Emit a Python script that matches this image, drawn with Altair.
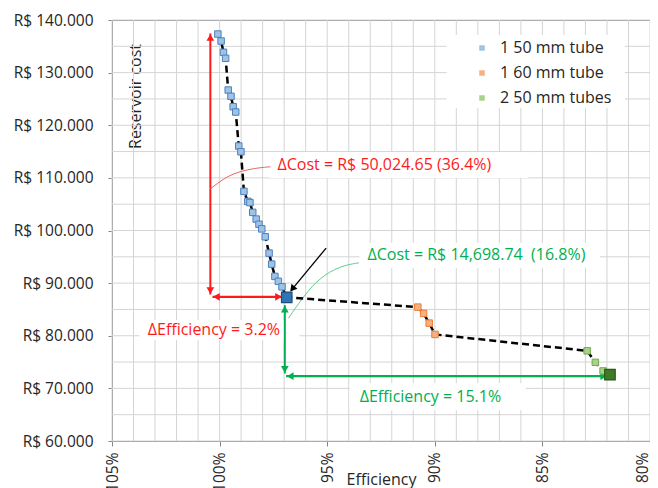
import altair as alt
import pandas as pd

# ---------------- data ----------------
series_names = ["1 50 mm tube", "1 60 mm tube", "2 50 mm tubes"]

blue_eff = [100.08, 99.93, 99.82, 99.72, 99.60, 99.47, 99.37, 99.25, 99.11, 99.01,
            98.87, 98.69, 98.59, 98.46, 98.30, 98.17, 98.04, 97.88, 97.70, 97.58,
            97.43, 97.27, 97.10, 96.88]
blue_cost = [137330, 136008, 133866, 132719, 126693, 125495, 123518, 122511, 116047, 114964,
             107436, 105535, 105307, 103444, 102170, 101182, 100307, 98805, 95706, 93615,
             91277, 90345, 89300, 87305]
orange_eff = [90.79, 90.52, 90.26, 89.99]
orange_cost = [85441, 84243, 82399, 80251]
green_eff = [82.92, 82.54, 82.18, 81.86]
green_cost = [77134, 74948, 73312, 72606]

fill_colors = ["#9DC3E6", "#F4B183", "#A9D18E"]
stroke_colors = ["#4F81BD", "#ED7D31", "#70AD47"]

highlight_eff = [96.88, 81.86]
highlight_cost = [87305, 72606]
highlight_fill = ["#2E75B6", "#3E7B27"]
highlight_stroke = ["#1F4E79", "#2A561A"]

x_ticks = [80, 85, 90, 95, 100, 105]
y_ticks = [60000, 70000, 80000, 90000, 100000, 110000, 120000, 130000, 140000]
x_grid = list(range(80, 106))
y_grid = list(range(60000, 140001, 5000))

RED = "#FF1A1A"
GREEN = "#00B050"

# annotation texts
ann_text = ["\u0394Cost = R$ 50,024.65 (36.4%)", "\u0394Efficiency = 3.2%",
            "\u0394Cost = R$ 14,698.74 \u00a0(16.8%)", "\u0394Efficiency = 15.1%"]
ann_eff = [97.31, 103.34, 93.13, 93.49]
ann_cost = [112435, 81069, 95326, 68388]
ann_color = [RED, RED, GREEN, GREEN]

# white label boxes (legend + annotations)
box_eff1 = [89.45, 97.68, 103.73, 93.50, 93.96]
box_eff2 = [81.17, 85.68, 96.29, 82.33, 85.77]
box_cost1 = [137148, 114906, 82970, 97607, 70994]
box_cost2 = [123271, 109964, 79168, 92855, 65861]

# arrow shafts
arrow_eff1 = [100.43, 100.33, 96.97, 96.91, 95.05]
arrow_eff2 = [100.43, 97.08, 96.97, 81.96, 96.55]
arrow_cost1 = [137434, 87400, 85820, 72324, 96657]
arrow_cost2 = [87818, 87400, 72836, 72324, 89250]
arrow_color = [RED, RED, GREEN, GREEN, "#000000"]
arrow_width = [2, 2.2, 2, 2.2, 1.3]

# arrow heads
head_eff = [100.43, 100.43, 100.15, 97.26, 96.97, 96.97, 96.72, 82.15, 96.62]
head_cost = [136673, 88577, 87400, 87400, 85060, 73596, 72324, 72324, 88900]
head_angle = [0, 180, 270, 90, 0, 180, 270, 90, 219]
head_color = [RED, RED, RED, RED, GREEN, GREEN, GREEN, GREEN, "#000000"]

# leader curves
lead_name = ["r"] * 5 + ["g"] * 5
lead_eff = [97.65, 98.46, 99.39, 100.01, 100.44, 93.53, 94.43, 95.36, 96.06, 96.80]
lead_cost = [112112, 111808, 110858, 109261, 107873, 93862, 93235, 90954, 87722, 83350]
lead_color = ["#F06060"] * 5 + ["#5CCB8A"] * 5

# ---------------- tables ----------------
pts = pd.DataFrame({
    "series": [series_names[0]] * len(blue_eff) + [series_names[1]] * len(orange_eff)
    + [series_names[2]] * len(green_eff),
    "eff": blue_eff + orange_eff + green_eff,
    "cost": blue_cost + orange_cost + green_cost,
})
pts["idx"] = range(len(pts))

hl = pd.DataFrame({"eff": highlight_eff, "cost": highlight_cost,
                   "fill": highlight_fill, "stroke": highlight_stroke})
vg = pd.DataFrame({"eff": x_grid})
hg = pd.DataFrame({"cost": y_grid})
ann = pd.DataFrame({"eff": ann_eff, "cost": ann_cost, "text": ann_text, "color": ann_color})
boxes = pd.DataFrame({"eff": box_eff1, "eff2": box_eff2, "cost": box_cost1, "cost2": box_cost2})
arrows = pd.DataFrame({"eff": arrow_eff1, "eff2": arrow_eff2, "cost": arrow_cost1,
                       "cost2": arrow_cost2, "color": arrow_color, "w": arrow_width})
heads = pd.DataFrame({"eff": head_eff, "cost": head_cost, "angle": head_angle, "color": head_color})
leads = pd.DataFrame({"name": lead_name, "eff": lead_eff, "cost": lead_cost, "color": lead_color})
leads["idx"] = range(len(leads))

FONT = "Open Sans"
TXT = "#262626"
AX = "#868686"

xscale = alt.Scale(domain=[80, 105], reverse=True, nice=False, zero=False)
yscale = alt.Scale(domain=[60000, 140000], nice=False, zero=False)

x_axis = alt.Axis(values=x_ticks, labelExpr="datum.value + '%'", labelAngle=270,
                  labelBaseline={"condition": {"test": "datum.value == 80", "value": "bottom"},
                                 "value": "middle"},
                  labelFont=FONT, labelFontSize=15.5, labelColor=TXT, labelPadding=6,
                  tickSize=5, tickColor=AX, domainColor=AX, grid=False,
                  titleFont=FONT, titleFontSize=16, titleFontWeight="normal", titleColor=TXT,
                  titleY=38, titleBaseline="middle")
y_axis = alt.Axis(values=y_ticks,
                  labelExpr="'R$ ' + replace(format(datum.value, ','), ',', '.')",
                  labelFont=FONT, labelFontSize=15.5, labelColor=TXT, labelPadding=15,
                  tickSize=4, tickColor=AX, domainColor=AX, grid=False,
                  titleFont=FONT, titleFontSize=16, titleFontWeight="normal", titleColor=TXT,
                  titleAngle=270, titleX=23, titleY=76, titleBaseline="middle", titleAlign="center")


def X(field="eff"):
    return alt.X(f"{field}:Q", scale=xscale, axis=x_axis, title="Efficiency")


def Y(field="cost"):
    return alt.Y(f"{field}:Q", scale=yscale, axis=y_axis, title="Reservoir cost")


vgrid = alt.Chart(vg).mark_rule(color="#D4D4D4", strokeWidth=1).encode(x=X())
hgrid = alt.Chart(hg).mark_rule(color="#D4D4D4", strokeWidth=1).encode(y=Y())

box_layer = alt.Chart(boxes).mark_rect(fill="white").encode(
    x=X(), x2="eff2:Q", y=Y(), y2="cost2:Q")

arrow_layer = alt.Chart(arrows).mark_rule().encode(
    x=X(), x2="eff2:Q", y=Y(), y2="cost2:Q",
    color=alt.Color("color:N", scale=None),
    strokeWidth=alt.StrokeWidth("w:Q", scale=None))

head_layer = alt.Chart(heads).mark_point(shape="triangle-up", filled=True, size=60, opacity=1).encode(
    x=X(), y=Y(),
    color=alt.Color("color:N", scale=None),
    angle=alt.Angle("angle:Q", scale=None))

lead_layer = alt.Chart(leads).mark_line(interpolate="basis", strokeWidth=1).encode(
    x=X(), y=Y(), detail="name:N", order="idx:Q",
    color=alt.Color("color:N", scale=None))

line_layer = alt.Chart(pts).mark_line(color="black", strokeDash=[7, 4], strokeWidth=2.5).encode(
    x=X(), y=Y(), order="idx:Q")

point_layer = alt.Chart(pts).mark_square(size=42, filled=True, strokeWidth=1, opacity=1).encode(
    x=X(), y=Y(),
    color=alt.Color("series:N", scale=alt.Scale(domain=series_names, range=fill_colors),
                    legend=alt.Legend(title=None, orient="none", legendX=362, legendY=20,
                                      symbolType="square", symbolSize=30, symbolStrokeWidth=0,
                                      labelFont=FONT, labelFontSize=16, labelColor=TXT,
                                      labelOffset=10, rowPadding=9, padding=0)),
    stroke=alt.Stroke("series:N", scale=alt.Scale(domain=series_names, range=stroke_colors),
                      legend=None))

hl_layer = alt.Chart(hl).mark_square(size=110, filled=True, strokeWidth=1.2, opacity=1).encode(
    x=X(), y=Y(),
    fill=alt.Fill("fill:N", scale=None),
    stroke=alt.Stroke("stroke:N", scale=None))

text_layer = alt.Chart(ann).mark_text(align="left", baseline="middle", font=FONT, fontSize=16).encode(
    x=X(), y=Y(), text="text:N", color=alt.Color("color:N", scale=None))

chart = alt.layer(
    vgrid, hgrid, box_layer, arrow_layer, head_layer, lead_layer,
    line_layer, point_layer, hl_layer, text_layer
).properties(
    width=538, height=421,
    autosize=alt.AutoSizeParams(type="none"),
    padding={"left": 104, "top": 12, "right": 0, "bottom": 47},
    background="white",
).configure_view(stroke=AX, strokeWidth=1)

chart.save("out.html", embed_options={"renderer": "svg", "actions": False})
